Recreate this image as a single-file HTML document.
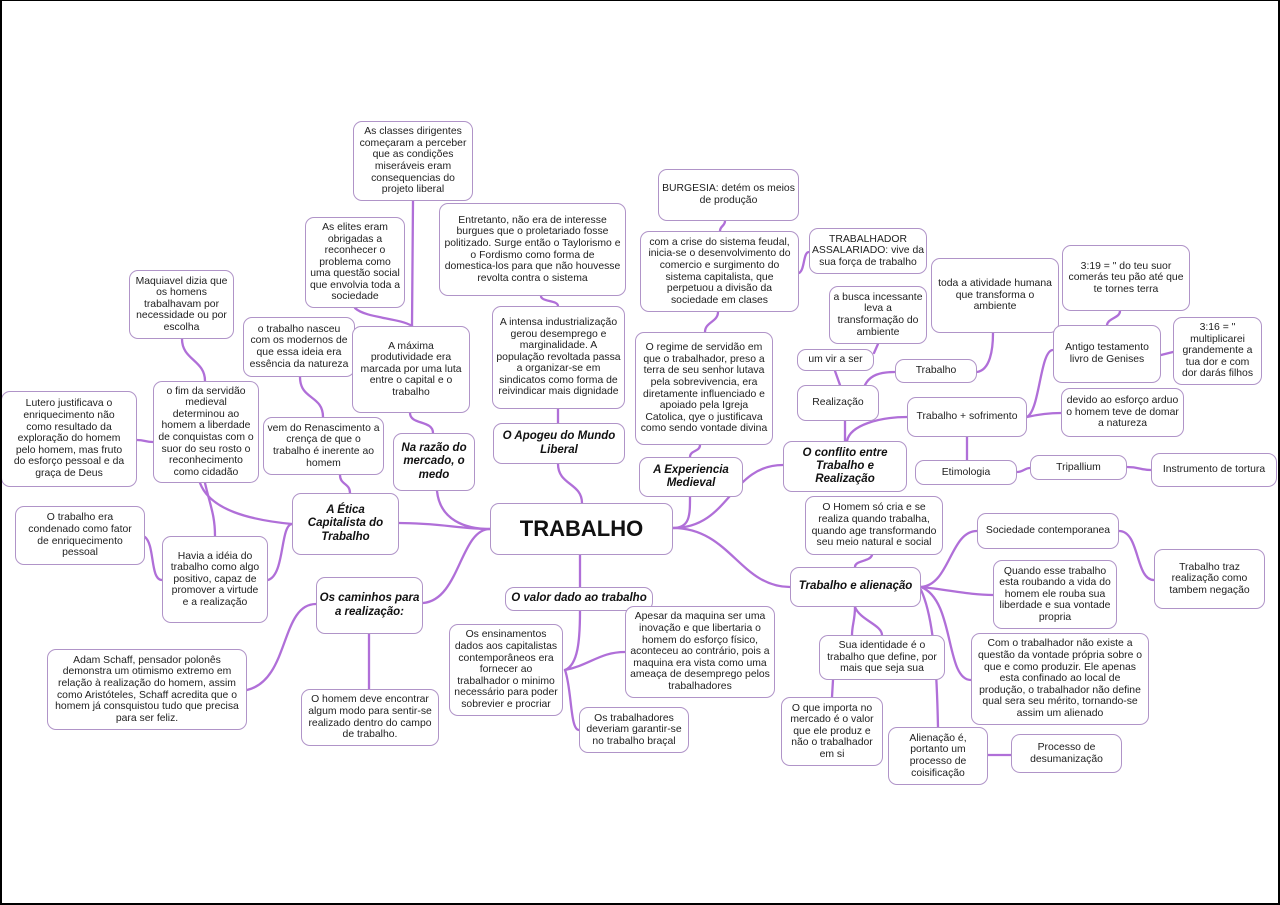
<!DOCTYPE html>
<html><head><meta charset="utf-8">
<style>
html,body{margin:0;padding:0;background:#fff;}
#w{position:relative;width:1280px;height:905px;overflow:hidden;background:#fff;}
#frame{position:absolute;left:0;top:0;width:1280px;height:905px;box-sizing:border-box;border:2px solid #000;border-top-width:1.5px;z-index:5;pointer-events:none;}
svg{position:absolute;left:0;top:0;}
.n{position:absolute;box-sizing:border-box;border:1.5px solid #b094c8;border-radius:9px;background:#fff;display:flex;align-items:center;justify-content:center;text-align:center;font-family:"Liberation Sans",sans-serif;font-size:10.4px;line-height:11.6px;color:#1e1e1e;white-space:nowrap;z-index:2;}
.c{font-weight:bold;font-style:italic;font-size:11.5px;line-height:13.3px;color:#111;}
.t{font-weight:bold;font-size:22px;color:#111;}
</style></head><body>
<div id="w">
<svg width="1280" height="905" viewBox="0 0 1280 905">
<g fill="none" stroke="#b06fd8" stroke-width="2.3" stroke-linecap="round">
<path d="M437 491 C440 520, 465 529, 490 529"/>
<path d="M399 523 C440 523, 460 529, 490 529"/>
<path d="M423 603 C460 600, 460 529, 490 529"/>
<path d="M558 464 C558 485, 582 483, 582 503"/>
<path d="M673 528 C690 528, 690 515, 690 497"/>
<path d="M673 528 C730 528, 730 465, 783 465"/>
<path d="M673 528 C730 528, 740 587, 790 587"/>
<path d="M580 555 L580 587"/>
<path d="M433 433 C433 420, 410 425, 410 413"/>
<path d="M413 201 L412 326"/>
<path d="M355 308 C365 318, 400 318, 412 326"/>
<path d="M340 475 C340 485, 350 483, 350 493"/>
<path d="M300 377 C300 400, 323 395, 323 417"/>
<path d="M200 483 C210 510, 250 520, 292 524"/>
<path d="M182 339 C182 360, 205 360, 205 381"/>
<path d="M137 440 C145 440, 145 442, 153 442"/>
<path d="M205 483 C210 505, 215 515, 215 536"/>
<path d="M268 580 C285 575, 280 525, 292 524"/>
<path d="M145 537 C155 545, 150 580, 162 580"/>
<path d="M247 690 C290 680, 280 604, 316 604"/>
<path d="M369 634 L369 689"/>
<path d="M558 423 L558 409"/>
<path d="M541 296 C541 302, 558 300, 558 306"/>
<path d="M700 445 C700 452, 690 450, 690 457"/>
<path d="M718 312 C718 322, 705 322, 705 332"/>
<path d="M725 221 C725 226, 720 226, 720 231"/>
<path d="M799 273 C805 270, 803 252, 809 252"/>
<path d="M845 421 L845 441"/>
<path d="M835 371 L840 385"/>
<path d="M878 344 L874 353"/>
<path d="M865 385 C870 375, 880 372, 895 372"/>
<path d="M977 372 C990 370, 993 350, 993 333"/>
<path d="M847 441 C850 425, 880 417, 907 417"/>
<path d="M1027 417 C1040 410, 1040 350, 1053 350"/>
<path d="M1027 417 C1040 414, 1050 413, 1061 413"/>
<path d="M1107 325 C1108 318, 1120 318, 1120 311"/>
<path d="M1161 355 L1173 352"/>
<path d="M967 437 L967 460"/>
<path d="M1017 472 C1023 472, 1025 468, 1030 468"/>
<path d="M1127 467 C1140 467, 1140 470, 1151 470"/>
<path d="M855 567 C855 560, 870 562, 872 555"/>
<path d="M921 587 C950 585, 950 531, 977 531"/>
<path d="M1119 531 C1140 531, 1135 580, 1154 580"/>
<path d="M921 587 C950 590, 970 595, 993 595"/>
<path d="M921 587 C955 600, 945 680, 971 680"/>
<path d="M855 607 C855 620, 852 625, 852 635"/>
<path d="M855 607 C860 620, 882 625, 882 635"/>
<path d="M833 680 L832 697"/>
<path d="M921 590 C935 620, 937 680, 938 727"/>
<path d="M988 755 L1011 755"/>
<path d="M580 611 C580 640, 578 665, 565 670"/>
<path d="M565 670 C590 665, 600 652, 625 652"/>
<path d="M565 670 C572 690, 570 730, 579 730"/>
</g>
</svg>

<div class="n" style="left:353px;top:121px;width:120px;height:80px;">As classes dirigentes<br>começaram a perceber<br>que as condições<br>miseráveis eram<br>consequencias do<br>projeto liberal</div>
<div class="n" style="left:305px;top:217px;width:100px;height:91px;">As elites eram<br>obrigadas a<br>reconhecer o<br>problema como<br>uma questão social<br>que envolvia toda a<br>sociedade</div>
<div class="n" style="left:129px;top:270px;width:105px;height:69px;">Maquiavel dizia que<br>os homens<br>trabalhavam por<br>necessidade ou por<br>escolha</div>
<div class="n" style="left:243px;top:317px;width:112px;height:60px;">o trabalho nasceu<br>com os modernos de<br>que essa ideia era<br>essência da natureza</div>
<div class="n" style="left:352px;top:326px;width:118px;height:87px;">A máxima<br>produtividade era<br>marcada por uma luta<br>entre o capital e o<br>trabalho</div>
<div class="n" style="left:153px;top:381px;width:106px;height:102px;">o fim da servidão<br>medieval<br>determinou ao<br>homem a liberdade<br>de conquistas com o<br>suor do seu rosto o<br>reconhecimento<br>como cidadão</div>
<div class="n" style="left:1px;top:391px;width:136px;height:96px;">Lutero justificava o<br>enriquecimento não<br>como resultado da<br>exploração do homem<br>pelo homem, mas fruto<br>do esforço pessoal e da<br>graça de Deus</div>
<div class="n" style="left:263px;top:417px;width:121px;height:58px;">vem do Renascimento a<br>crença de que o<br>trabalho é inerente ao<br>homem</div>
<div class="n c" style="left:393px;top:433px;width:82px;height:58px;">Na razão do<br>mercado, o<br>medo</div>
<div class="n c" style="left:292px;top:493px;width:107px;height:62px;">A Ética<br>Capitalista do<br>Trabalho</div>
<div class="n" style="left:15px;top:506px;width:130px;height:59px;">O trabalho era<br>condenado como fator<br>de enriquecimento<br>pessoal</div>
<div class="n" style="left:162px;top:536px;width:106px;height:87px;">Havia a idéia do<br>trabalho como algo<br>positivo, capaz de<br>promover a virtude<br>e a realização</div>
<div class="n c" style="left:316px;top:577px;width:107px;height:57px;">Os caminhos para<br>a realização:</div>
<div class="n" style="left:47px;top:649px;width:200px;height:81px;">Adam Schaff, pensador polonês<br>demonstra um otimismo extremo em<br>relação à realização do homem, assim<br>como Aristóteles, Schaff acredita que o<br>homem já consquistou tudo que precisa<br>para ser feliz.</div>
<div class="n" style="left:301px;top:689px;width:138px;height:57px;">O homem deve encontrar<br>algum modo para sentir-se<br>realizado dentro do campo<br>de trabalho.</div>

<div class="n" style="left:439px;top:203px;width:187px;height:93px;">Entretanto, não era de interesse<br>burgues que o proletariado fosse<br>politizado. Surge então o Taylorismo e<br>o Fordismo como forma de<br>domestica-los para que não houvesse<br>revolta contra o sistema</div>
<div class="n" style="left:492px;top:306px;width:133px;height:103px;">A intensa industrialização<br>gerou desemprego e<br>marginalidade. A<br>população revoltada passa<br>a organizar-se em<br>sindicatos como forma de<br>reivindicar mais dignidade</div>
<div class="n c" style="left:493px;top:423px;width:132px;height:41px;">O Apogeu do Mundo<br>Liberal</div>
<div class="n" style="left:658px;top:169px;width:141px;height:52px;">BURGESIA: detém os meios<br>de produção</div>
<div class="n" style="left:640px;top:231px;width:159px;height:81px;">com a crise do sistema feudal,<br>inicia-se o desenvolvimento do<br>comercio e surgimento do<br>sistema capitalista, que<br>perpetuou a divisão da<br>sociedade em clases</div>
<div class="n" style="left:635px;top:332px;width:138px;height:113px;">O regime de servidão em<br>que o trabalhador, preso a<br>terra de seu senhor lutava<br>pela sobrevivencia, era<br>diretamente influenciado e<br>apoiado pela Igreja<br>Catolica, qye o justificava<br>como sendo vontade divina</div>
<div class="n c" style="left:639px;top:457px;width:104px;height:40px;">A Experiencia<br>Medieval</div>
<div class="n" style="left:809px;top:228px;width:118px;height:46px;">TRABALHADOR<br>ASSALARIADO: vive da<br>sua força de trabalho</div>
<div class="n" style="left:829px;top:286px;width:98px;height:58px;">a busca incessante<br>leva a<br>transformação do<br>ambiente</div>
<div class="n" style="left:797px;top:349px;width:77px;height:22px;">um vir a ser</div>
<div class="n" style="left:895px;top:359px;width:82px;height:24px;">Trabalho</div>
<div class="n" style="left:797px;top:385px;width:82px;height:36px;">Realização</div>
<div class="n" style="left:931px;top:258px;width:128px;height:75px;">toda a atividade humana<br>que transforma o<br>ambiente</div>
<div class="n" style="left:1062px;top:245px;width:128px;height:66px;">3:19 = " do teu suor<br>comerás teu pão até que<br>te tornes terra</div>
<div class="n" style="left:1053px;top:325px;width:108px;height:58px;">Antigo testamento<br>livro de Genises</div>
<div class="n" style="left:1173px;top:317px;width:89px;height:68px;">3:16 = "<br>multiplicarei<br>grandemente a<br>tua dor e com<br>dor darás filhos</div>
<div class="n" style="left:907px;top:397px;width:120px;height:40px;">Trabalho + sofrimento</div>
<div class="n" style="left:1061px;top:388px;width:123px;height:49px;">devido ao esforço arduo<br>o homem teve de domar<br>a natureza</div>
<div class="n c" style="left:783px;top:441px;width:124px;height:51px;">O conflito entre<br>Trabalho e<br>Realização</div>
<div class="n" style="left:915px;top:460px;width:102px;height:25px;">Etimologia</div>
<div class="n" style="left:1030px;top:455px;width:97px;height:25px;">Tripallium</div>
<div class="n" style="left:1151px;top:453px;width:126px;height:34px;">Instrumento de tortura</div>

<div class="n t" style="left:490px;top:503px;width:183px;height:52px;">TRABALHO</div>
<div class="n c" style="left:505px;top:587px;width:148px;height:24px;">O valor dado ao trabalho</div>
<div class="n" style="left:449px;top:624px;width:114px;height:92px;">Os ensinamentos<br>dados aos capitalistas<br>contemporâneos era<br>fornecer ao<br>trabalhador o minimo<br>necessário para poder<br>sobrevier e procriar</div>
<div class="n" style="left:625px;top:606px;width:150px;height:92px;">Apesar da maquina ser uma<br>inovação e que libertaria o<br>homem do esforço físico,<br>aconteceu ao contrário, pois a<br>maquina era vista como uma<br>ameaça de desemprego pelos<br>trabalhadores</div>
<div class="n" style="left:579px;top:707px;width:110px;height:46px;">Os trabalhadores<br>deveriam garantir-se<br>no trabalho braçal</div>

<div class="n" style="left:805px;top:496px;width:138px;height:59px;">O Homem só cria e se<br>realiza quando trabalha,<br>quando age transformando<br>seu meio natural e social</div>
<div class="n c" style="left:790px;top:567px;width:131px;height:40px;">Trabalho e alienação</div>
<div class="n" style="left:977px;top:513px;width:142px;height:36px;">Sociedade contemporanea</div>
<div class="n" style="left:1154px;top:549px;width:111px;height:60px;">Trabalho traz<br>realização como<br>tambem negação</div>
<div class="n" style="left:993px;top:560px;width:124px;height:69px;">Quando esse trabalho<br>esta roubando a vida do<br>homem ele rouba sua<br>liberdade e sua vontade<br>propria</div>
<div class="n" style="left:819px;top:635px;width:126px;height:45px;">Sua identidade é o<br>trabalho que define, por<br>mais que seja sua</div>
<div class="n" style="left:971px;top:633px;width:178px;height:92px;">Com o trabalhador não existe a<br>questão da vontade própria sobre o<br>que e como produzir. Ele apenas<br>esta confinado ao local de<br>produção, o trabalhador não define<br>qual sera seu mérito, tornando-se<br>assim um alienado</div>
<div class="n" style="left:781px;top:697px;width:102px;height:69px;">O que importa no<br>mercado é o valor<br>que ele produz e<br>não o trabalhador<br>em si</div>
<div class="n" style="left:888px;top:727px;width:100px;height:58px;">Alienação é,<br>portanto um<br>processo de<br>coisificação</div>
<div class="n" style="left:1011px;top:734px;width:111px;height:39px;">Processo de<br>desumanização</div>

<div id="frame"></div>
</div>
</body></html>
